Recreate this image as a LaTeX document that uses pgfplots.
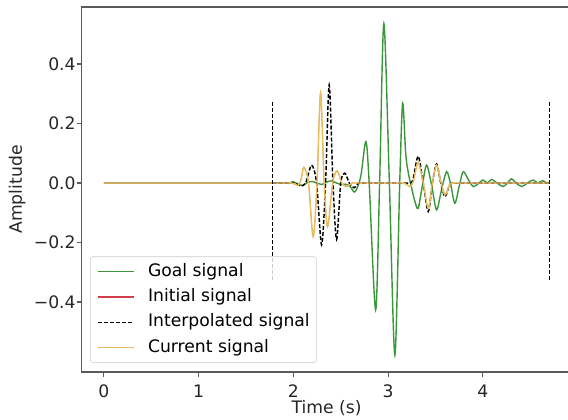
\documentclass[border=0pt]{standalone}
\usepackage{pgfplots}
\pgfplotsset{compat=1.18}
\usepackage{fontspec}
\setmainfont{DejaVu Sans}
\usetikzlibrary{calc}
\definecolor{goalc}{HTML}{3A963A}
\definecolor{initc}{HTML}{D1404A}
\definecolor{curc}{HTML}{E6BC5E}
\definecolor{spine}{gray}{0.35}
\begin{document}
\begin{tikzpicture}[font=\fontsize{12.9}{15}\selectfont]
\begin{axis}[
  name=ax,
  scale only axis,
  width=364.7pt, height=273.75pt,
  xmin=-0.235, xmax=4.895,
  ymin=-0.6353, ymax=0.5916,
  axis x line*=box, axis y line*=left,
  axis line style={-, spine, line width=0.8pt},
  xtick pos=left, ytick pos=left,
  tick align=outside,
  major tick length=3.65pt,
  major tick style={spine, line width=0.8pt},
  xtick={0,1,2,3,4}, xticklabels={0,1,2,3,4},
  ytick={-0.4,-0.2,0,0.2,0.4}, yticklabels={−0.4,−0.2,0.0,0.2,0.4},
  tick label style={text=black!85},
  xticklabel style={yshift=-2.5pt},
  yticklabel style={xshift=2.8pt},
  xlabel={Time (s)}, ylabel={Amplitude},
  every axis x label/.style={at={(axis description cs:0.504,-0.0986)}, anchor=center, text=black!85},
  every axis y label/.style={at={(axis description cs:-0.1326,0.5)}, rotate=90, anchor=center, text=black!85},
  legend cell align=left,
  legend style={at={(0,0)}, anchor=south west, xshift=6.4pt, yshift=6.75pt,
    draw=black!20, rounded corners=2pt, fill=white, fill opacity=0.8, text opacity=1,
    inner xsep=5pt, inner ysep=5pt, row sep=6.5pt, column sep=10.3pt,
    nodes={inner sep=0pt, text height=9.5pt, text depth=3pt}},
]
\addplot[color=goalc, line width=1.05pt, smooth, tension=0.5,
  legend image code/.code={\draw[draw=goalc, line width=1pt] (0pt,0pt) -- (27pt,0pt);}] coordinates {
(0,0) (1.0,0) (1.9,0) (1.95,0) (2.0,0.004) (2.05,-0.004) (2.1,-0.008) (2.15,0.002) (2.2,0.005) (2.25,0) (2.3,-0.005) (2.35,0.003) (2.4,0.007) (2.45,0.001) (2.5,-0.005) (2.55,-0.004) (2.6,-0.012) (2.649,-0.03) (2.71,0.02) (2.765,0.139) (2.80,0.0) (2.868,-0.427) (2.91,0.0) (2.955,0.536) (3.013,0.0) (3.071,-0.579) (3.122,0.0) (3.153,0.268) (3.185,0.1) (3.212,0.035) (3.24,-0.005) (3.28,-0.06) (3.317,-0.085) (3.36,-0.01) (3.406,0.06) (3.46,-0.01) (3.511,-0.09) (3.565,-0.02) (3.617,0.038) (3.66,-0.005) (3.704,-0.068) (3.75,-0.01) (3.792,0.038) (3.845,0.012) (3.898,-0.012) (3.95,-0.002) (4.0,0.01) (4.05,0.0) (4.09,0.012) (4.15,0.0) (4.21,-0.012) (4.26,0.0) (4.30,0.014) (4.35,0.0) (4.41,-0.012) (4.47,0.0) (4.53,0.01) (4.58,0.0) (4.63,0.008) (4.67,0.0) (4.7,0.003)
};
\addlegendentry{Goal signal}
\addplot[color=initc, line width=0.4pt, smooth, tension=0.5,
  legend image code/.code={\draw[draw=initc, line width=1pt] (0pt,0pt) -- (27pt,0pt);}] coordinates {
(0,0) (1.0,0) (1.9,0) (1.97,0) (2.02,-0.004) (2.05,-0.008) (2.08,0.01) (2.111,0.053) (2.16,0) (2.209,-0.18) (2.25,0) (2.287,0.304) (2.325,0) (2.361,-0.147) (2.415,0) (2.462,0.041) (2.51,0) (2.561,-0.012) (2.62,0) (2.7,0) (3.1,0) (3.16,0) (3.2,-0.006) (3.235,-0.012) (3.27,0.01) (3.317,0.07) (3.37,0) (3.423,-0.085) (3.467,0) (3.511,0.06) (3.555,0.005) (3.6,-0.04) (3.65,-0.005) (3.7,0) (3.8,0) (4.7,0)
};
\addlegendentry{Initial signal}
\addplot[color=black, line width=1.1pt, dash pattern=on 3pt off 1.5pt, smooth, tension=0.5,
  legend image code/.code={\draw[draw=black, line width=1pt, dash pattern=on 3pt off 1.5pt] (0pt,0pt) -- (27pt,0pt);}] coordinates {
(1.78,0) (1.9,0) (1.98,0) (2.02,0) (2.076,-0.01) (2.13,0) (2.192,0.06) (2.245,0) (2.298,-0.208) (2.34,0) (2.378,0.33) (2.418,0) (2.456,-0.19) (2.5,0) (2.543,0.033) (2.59,0) (2.639,-0.016) (2.69,0) (2.75,0) (3.15,0) (3.22,0) (3.26,0.01) (3.317,0.09) (3.37,0) (3.423,-0.096) (3.467,0) (3.511,0.064) (3.555,0) (3.6,-0.046) (3.65,-0.005) (3.7,0) (3.8,0) (4.7,0)
};
\addlegendentry{Interpolated signal}
\addplot[color=curc, line width=1.1pt, smooth, tension=0.5,
  legend image code/.code={\draw[draw=curc, line width=1pt] (0pt,0pt) -- (27pt,0pt);}] coordinates {
(0,0) (1.0,0) (1.9,0) (1.97,0) (2.02,-0.004) (2.05,-0.008) (2.08,0.01) (2.111,0.053) (2.16,0) (2.209,-0.18) (2.25,0) (2.287,0.304) (2.325,0) (2.361,-0.147) (2.415,0) (2.462,0.041) (2.51,0) (2.561,-0.012) (2.62,0) (2.7,0) (3.1,0) (3.16,0) (3.2,-0.006) (3.235,-0.012) (3.27,0.01) (3.317,0.07) (3.37,0) (3.423,-0.085) (3.467,0) (3.511,0.06) (3.555,0.005) (3.6,-0.04) (3.65,-0.005) (3.7,0) (3.8,0) (4.7,0)
};
\addlegendentry{Current signal}
\addplot[color=black, line width=1.1pt, dash pattern=on 3pt off 1.5pt, forget plot] coordinates {(1.78,0.273) (1.78,-0.332)};
\addplot[color=black, line width=1.1pt, dash pattern=on 3pt off 1.5pt, forget plot] coordinates {(4.70,0.273) (4.70,-0.332)};
\end{axis}
\pgfresetboundingbox
\path[use as bounding box] ($(ax.south west)+(-61.125pt,-35.25pt)$) rectangle ++(426pt,314.25pt);
\end{tikzpicture}
\end{document}
